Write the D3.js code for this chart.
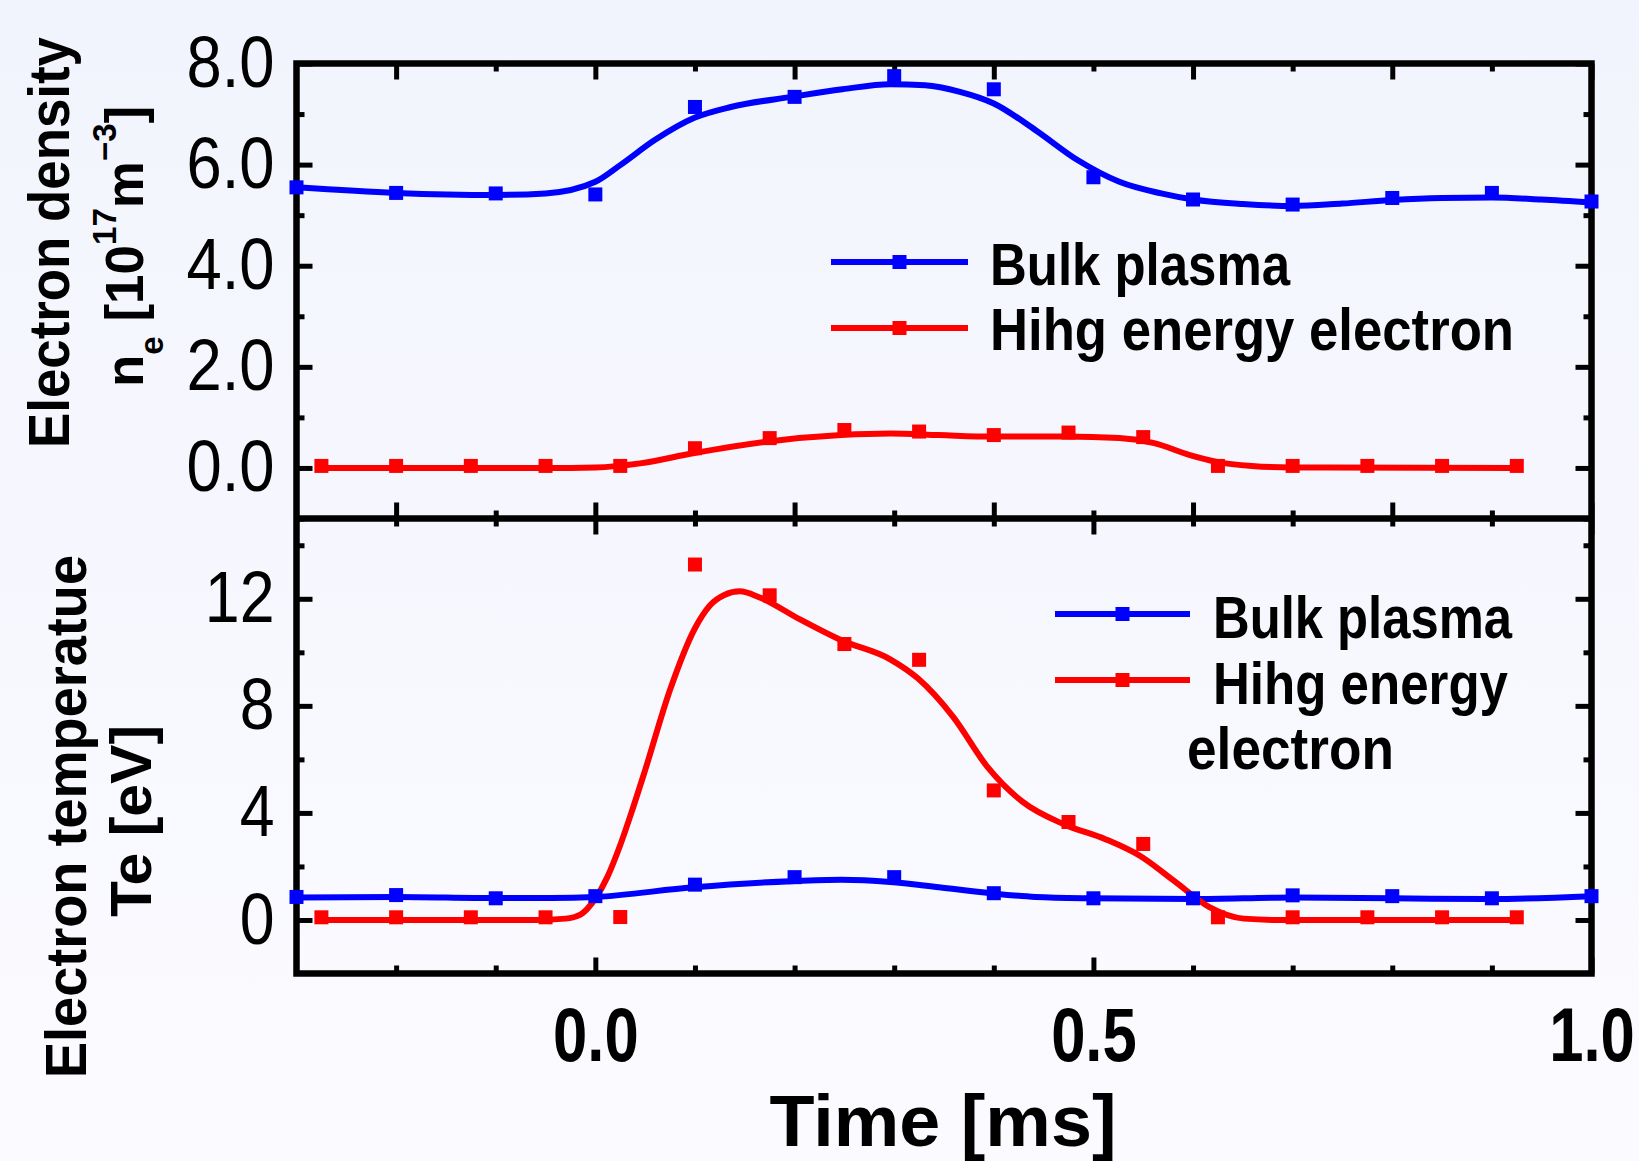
<!DOCTYPE html>
<html><head><meta charset="utf-8">
<script src="https://cdn.jsdelivr.net/npm/d3@7"></script>
<style>html,body{margin:0;padding:0;background:#F5F6FE;} svg{display:block;}</style>
</head><body>
<svg id="chart" width="1639" height="1161"></svg>
<script>
// ---------- data ----------
const bulkTimes = [-0.3,-0.2,-0.1,0.0,0.1,0.2,0.3,0.4,0.5,0.6,0.7,0.8,0.9,1.0];
const hotTimes = [-0.275,-0.2,-0.125,-0.05,0.025,0.1,0.175,0.25,0.325,0.4,0.475,0.55,0.625,0.7,0.775,0.85,0.925];

const densityBulk = [5.55,5.44,5.43,5.41,7.14,7.34,7.75,7.49,5.75,5.31,5.21,5.34,5.44,5.27];
const densityHot  = [0.04,0.04,0.04,0.04,0.04,0.39,0.59,0.75,0.72,0.65,0.70,0.61,0.04,0.04,0.04,0.04,0.04];
const tempBulk    = [0.86,0.93,0.81,0.89,1.32,1.60,1.60,1.00,0.81,0.81,0.92,0.89,0.81,0.89];
const tempHot     = [0.1,0.1,0.1,0.1,0.11,13.28,12.13,10.31,9.72,4.84,3.66,2.84,0.1,0.1,0.1,0.1,0.1];

// smoothed fit curves
const densityBulkFitT = [-0.3,-0.2,-0.1,-0.05,0.0,0.025,0.06,0.1,0.136,0.197,0.248,0.296,0.331,0.366,0.4,0.442,0.484,0.526,0.568,0.6,0.65,0.7,0.75,0.8,0.85,0.9,0.95,1.0];
const densityBulkFitV = [5.55,5.44,5.40,5.43,5.66,5.99,6.49,6.93,7.14,7.34,7.49,7.59,7.57,7.44,7.21,6.68,6.09,5.66,5.43,5.31,5.22,5.18,5.23,5.30,5.34,5.35,5.31,5.25];
const densityHotFitT = [-0.275,-0.05,0.0,0.045,0.098,0.172,0.247,0.296,0.345,0.397,0.472,0.526,0.561,0.596,0.624,0.659,0.7,0.925];
const densityHotFitV = [0,0,0.01,0.09,0.29,0.52,0.65,0.68,0.65,0.62,0.62,0.59,0.49,0.26,0.12,0.04,0.01,0];
const tempBulkFitT = [-0.3,-0.2,-0.1,-0.045,0.0,0.098,0.197,0.247,0.296,0.345,0.397,0.442,0.496,0.6,0.7,0.8,0.9,1.0];
const tempBulkFitV = [0.84,0.86,0.82,0.82,0.86,1.22,1.45,1.50,1.42,1.22,1.00,0.86,0.81,0.78,0.84,0.81,0.78,0.89];
const tempHotFitT = [-0.275,-0.06,-0.03,-0.015,0.0,0.012,0.025,0.037,0.05,0.075,0.1,0.115,0.13,0.145,0.165,0.205,0.247,0.296,0.324,0.359,0.394,0.428,0.47,0.512,0.547,0.581,0.616,0.651,0.686,0.925];
const tempHotFitV = [0,0,0.05,0.2,0.8,1.6,2.8,4.1,5.6,8.6,10.9,11.75,12.15,12.28,12.05,11.24,10.45,9.74,9.02,7.6,5.7,4.44,3.58,3.02,2.39,1.46,0.49,0.05,0,0];

// ticks / labels
const xDomain = [-0.3, 1.0];
const topYDomain = [-1, 8];
const botYDomain = [-2, 15];
const topYMajor = [0,2,4,6,8];
const topYMinor = [-1,1,3,5,7];
const botYMajor = [0,4,8,12];
const botYMinor = [2,6,10,14];
const topXMajor = [-0.2,0,0.2,0.4,0.6,0.8,1.0];
const topXMinor = [-0.1,0.1,0.3,0.5,0.7,0.9];
const botXMajor = [0,0.5,1.0];
const botXMinor = [-0.2,-0.1,0.1,0.2,0.3,0.4,0.6,0.7,0.8,0.9];
const seriesNames = ["Bulk plasma","Hihg energy electron"];
const colors = ["#0000FF","#FF0000"];

// ---------- drawing ----------
const svg = d3.select("#chart");
const FONT = "'Liberation Sans', Arial, Helvetica, sans-serif";
const L = 296.5, R = 1591.5, T = 63.5, M = 518.5, B = 973.5;
const MK = 14;

const defs = svg.append("defs");
const grad = defs.append("linearGradient").attr("id","bg").attr("x1",0).attr("y1",0).attr("x2",0).attr("y2",1);
grad.append("stop").attr("offset","0%").attr("stop-color","#F2F4FD");
grad.append("stop").attr("offset","100%").attr("stop-color","#FBFBFF");
svg.append("rect").attr("width",1639).attr("height",1161).attr("fill","url(#bg)");

const x = d3.scaleLinear(xDomain,[L,R]);
const yTop = d3.scaleLinear(topYDomain,[M,T]);
const yBot = d3.scaleLinear(botYDomain,[B,M]);

function condense(sel, f){
  sel.each(function(){
    const w = this.getComputedTextLength();
    this.setAttribute("textLength", (w*f).toFixed(1));
    this.setAttribute("lengthAdjust","spacingAndGlyphs");
  });
}
function fitWidth(sel, w){
  sel.attr("textLength", w).attr("lengthAdjust","spacingAndGlyphs");
}

function axisG(axis, tx, ty){
  const g = svg.append("g").attr("transform",`translate(${tx},${ty})`).call(axis);
  g.select(".domain").remove();
  g.selectAll(".tick line").attr("stroke","#000").attr("stroke-width",5);
  return g;
}

// top panel axes
const gTL = axisG(d3.axisLeft(yTop).tickValues(topYMajor).tickFormat(d3.format(".1f")).tickSizeInner(-16).tickSizeOuter(0).tickPadding(22), L, 0);
gTL.attr("font-family",FONT).attr("font-size",72);
gTL.selectAll("text").attr("fill","#000");
axisG(d3.axisLeft(yTop).tickValues(topYMinor).tickFormat("").tickSize(-8), L, 0);
axisG(d3.axisRight(yTop).tickValues(topYMajor).tickFormat("").tickSize(-16), R, 0);
axisG(d3.axisRight(yTop).tickValues(topYMinor).tickFormat("").tickSize(-8), R, 0);
axisG(d3.axisTop(x).tickValues(topXMajor).tickFormat("").tickSize(-16), 0, T);
axisG(d3.axisTop(x).tickValues(topXMinor).tickFormat("").tickSize(-8), 0, T);
axisG(d3.axisBottom(x).tickValues(topXMajor).tickFormat("").tickSize(-16), 0, M);
axisG(d3.axisBottom(x).tickValues(topXMinor).tickFormat("").tickSize(-8), 0, M);

// bottom panel axes
const gBL = axisG(d3.axisLeft(yBot).tickValues(botYMajor).tickFormat(d3.format("d")).tickSizeInner(-16).tickSizeOuter(0).tickPadding(22), L, 0);
gBL.attr("font-family",FONT).attr("font-size",72);
gBL.selectAll("text").attr("fill","#000");
axisG(d3.axisLeft(yBot).tickValues(botYMinor).tickFormat("").tickSize(-8), L, 0);
axisG(d3.axisRight(yBot).tickValues(botYMajor).tickFormat("").tickSize(-16), R, 0);
axisG(d3.axisRight(yBot).tickValues(botYMinor).tickFormat("").tickSize(-8), R, 0);
axisG(d3.axisTop(x).tickValues(botXMajor).tickFormat("").tickSize(-16), 0, M);
axisG(d3.axisTop(x).tickValues(botXMinor).tickFormat("").tickSize(-8), 0, M);
const gBB = axisG(d3.axisBottom(x).tickValues(botXMajor).tickFormat(d3.format(".1f")).tickSizeInner(-16).tickSizeOuter(0).tickPadding(34), 0, B);
gBB.attr("font-family",FONT).attr("font-size",76).attr("font-weight","bold");
gBB.selectAll("text").attr("fill","#000").attr("transform","scale(0.81,1)");
axisG(d3.axisBottom(x).tickValues(botXMinor).tickFormat("").tickSize(-8), 0, B);

// frame
svg.append("rect").attr("x",L).attr("y",T).attr("width",R-L).attr("height",B-T)
  .attr("fill","none").attr("stroke","#000").attr("stroke-width",6.5);
svg.append("line").attr("x1",L).attr("x2",R).attr("y1",M).attr("y2",M)
  .attr("stroke","#000").attr("stroke-width",6.5);

condense(gTL.selectAll("text"), 0.88);
condense(gBL.selectAll("text"), 0.87);

// series
function drawFit(ts, vs, y, color){
  const pts = ts.map((t,i)=>[t,vs[i]]);
  svg.append("path").datum(pts)
    .attr("d", d3.line().x(d=>x(d[0])).y(d=>y(d[1])).curve(d3.curveMonotoneX))
    .attr("fill","none").attr("stroke",color).attr("stroke-width",6)
    .attr("stroke-linejoin","round");
}
function drawPts(ts, vs, y, color){
  svg.append("g").selectAll("rect").data(ts.map((t,i)=>[t,vs[i]])).join("rect")
    .attr("x",d=>x(d[0])-MK/2).attr("y",d=>y(d[1])-MK/2)
    .attr("width",MK).attr("height",MK).attr("fill",color);
}
drawFit(densityBulkFitT, densityBulkFitV, yTop, colors[0]);
drawFit(densityHotFitT, densityHotFitV, yTop, colors[1]);
drawPts(bulkTimes, densityBulk, yTop, colors[0]);
drawPts(hotTimes, densityHot, yTop, colors[1]);
drawFit(tempBulkFitT, tempBulkFitV, yBot, colors[0]);
drawFit(tempHotFitT, tempHotFitV, yBot, colors[1]);
drawPts(bulkTimes, tempBulk, yBot, colors[0]);
drawPts(hotTimes, tempHot, yBot, colors[1]);

// legends
function legendItem(x1, x2, y, color){
  svg.append("line").attr("x1",x1).attr("x2",x2).attr("y1",y).attr("y2",y)
    .attr("stroke",color).attr("stroke-width",6);
  svg.append("rect").attr("x",(x1+x2)/2-MK/2).attr("y",y-MK/2).attr("width",MK).attr("height",MK).attr("fill",color);
}
function label(txt, px, py, size, w, anchor){
  const t = svg.append("text").attr("x",px).attr("y",py).attr("font-family",FONT)
    .attr("font-weight","bold").attr("font-size",size).attr("fill","#000")
    .attr("text-anchor",anchor||"start").text(txt);
  if (w) fitWidth(t, w);
  return t;
}
legendItem(831, 968, 262, colors[0]);
legendItem(831, 968, 328, colors[1]);
label(seriesNames[0], 990, 285, 59, 300);
label(seriesNames[1], 990, 350, 59, 524);

legendItem(1055, 1190, 614, colors[0]);
legendItem(1055, 1190, 680, colors[1]);
label(seriesNames[0], 1213, 638, 59, 299);
label("Hihg energy", 1213, 704, 59, 295);
label("electron", 1187, 769, 59, 207);

// axis titles
label("Time [ms]", 943, 1146, 73, 347, "middle");

function vtitle(txt, px, py, size, w){
  const t = svg.append("text").attr("transform",`translate(${px},${py}) rotate(-90)`)
    .attr("font-family",FONT).attr("font-weight","bold").attr("font-size",size)
    .attr("fill","#000").attr("text-anchor","middle").text(txt);
  if (w) fitWidth(t, w);
  return t;
}
vtitle("Electron density", 69, 242.5, 57, 411);
vtitle("Electron temperatue", 86, 816.5, 57, 523);
vtitle("Te [eV]", 151, 821, 58, 192);

const ne = svg.append("text").attr("transform","translate(143,387) rotate(-90)")
  .attr("font-family",FONT).attr("font-weight","bold").attr("font-size",53).attr("fill","#000");
ne.append("tspan").text("n");
ne.append("tspan").attr("font-size",33).attr("dy",20).text("e");
ne.append("tspan").attr("dy",-20).text(" [10");
ne.append("tspan").attr("font-size",33).attr("dy",-27).text("17");
ne.append("tspan").attr("dy",27).text("m");
ne.append("tspan").attr("font-size",33).attr("dy",-27).text("\u22123");
ne.append("tspan").attr("dy",27).text("]");
</script>
</body></html>
